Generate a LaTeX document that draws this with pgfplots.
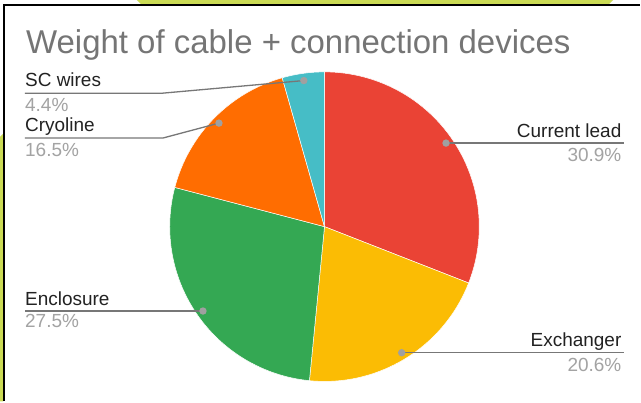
\documentclass[border=0pt]{standalone}
\usepackage{pgfplots}
\usepackage{pgfplotstable}
\pgfplotsset{compat=1.18}
\usepackage{fontspec}
\setmainfont{Liberation Sans}
\definecolor{c0}{HTML}{EA4335}
\definecolor{c1}{HTML}{FBBC04}
\definecolor{c2}{HTML}{34A853}
\definecolor{c3}{HTML}{FF6D01}
\definecolor{c4}{HTML}{46BDC6}
\definecolor{lime}{HTML}{CBDB55}
\definecolor{titlegray}{HTML}{757575}
\definecolor{labeldark}{HTML}{222222}
\definecolor{pctgray}{HTML}{A3A3A3}
\definecolor{leadgray}{HTML}{777777}
\definecolor{dotgray}{HTML}{A0A0A0}

\pgfplotstableread{
label value
{Current lead} 30.9
Exchanger 20.6
Enclosure 27.5
Cryoline 16.5
{SC wires} 4.4
}\piedata

\begin{document}
\begin{tikzpicture}
\def\total{0}
\pgfplotsforeachungrouped \i in {0,...,4}{%
  \pgfplotstablegetelem{\i}{value}\of\piedata
  \pgfmathsetmacro\total{\total+\pgfplotsretval}%
  \xdef\total{\total}}
\def\cum{90}
\pgfplotsforeachungrouped \i in {0,...,4}{%
  \pgfplotstablegetelem{\i}{value}\of\piedata
  \pgfmathsetmacro\nxt{\cum-\pgfplotsretval*360/\total}%
  \expandafter\xdef\csname sa\i\endcsname{\cum}%
  \expandafter\xdef\csname ea\i\endcsname{\nxt}%
  \xdef\cum{\nxt}}
\begin{axis}[
  scale only axis, width=641pt, height=402pt,
  xmin=0, xmax=641, ymin=0, ymax=402, y dir=reverse,
  hide axis, clip=false,
  lead/.style={leadgray, line width=1.3pt, mark=*, mark indices={1},
    mark options={dotgray, draw=dotgray, scale=1.5}},
]
\fill[white] (axis cs:0,0) rectangle (axis cs:641,402);
% background decorations of the screenshot
\fill[lime] (axis cs:137,0) -- (axis cs:141,4) -- (axis cs:610,4) -- (axis cs:614,0) -- cycle;
\fill[lime] (axis cs:0,137) -- (axis cs:3,134) -- (axis cs:3,402) -- (axis cs:0,402) -- cycle;
\draw[black, line width=2pt] (axis cs:4.5,402) -- (axis cs:4.5,5) -- (axis cs:641,5);
% pie slices
\pgfplotsinvokeforeach{0,...,4}{
  \fill[c#1, draw=white, line width=0.5pt] (axis cs:325,227) -- ++(\csname sa#1\endcsname:155pt)
    arc[start angle=\csname sa#1\endcsname, end angle=\csname ea#1\endcsname, radius=155pt] -- cycle;
}
% leader lines
\addplot[lead] coordinates {(446.7,143.3) (625,143.3)};
\addplot[lead] coordinates {(402.3,353.3) (625,353.3)};
\addplot[lead] coordinates {(203.3,311.5) (25,311.5)};
\addplot[lead] coordinates {(304.3,80.7) (163,93.3) (25,93.3)};
\addplot[lead] coordinates {(219.3,123.3) (163,138.3) (25,138.3)};
% title
\node[anchor=base west, inner sep=0pt, text=titlegray, font=\fontsize{33}{38}\selectfont]
  at (axis cs:26,54) {Weight of cable + connection devices};
% labels
\tikzset{lab/.style={inner sep=0pt, text=labeldark, font=\fontsize{19}{22}\selectfont},
         pct/.style={inner sep=0pt, text=pctgray, font=\fontsize{19}{22}\selectfont}}
\node[lab, anchor=base east] at (axis cs:622.5,137.3) {Current lead};
\node[pct, anchor=base east] at (axis cs:622.5,161.7) {30.9\%};
\node[lab, anchor=base east] at (axis cs:622.5,346.8) {Exchanger};
\node[pct, anchor=base east] at (axis cs:622.5,371.7) {20.6\%};
\node[lab, anchor=base west] at (axis cs:25,306) {Enclosure};
\node[pct, anchor=base west] at (axis cs:25,327.7) {27.5\%};
\node[lab, anchor=base west] at (axis cs:25,86.5) {SC wires};
\node[pct, anchor=base west] at (axis cs:25,111.7) {4.4\%};
\node[lab, anchor=base west] at (axis cs:25,131.7) {Cryoline};
\node[pct, anchor=base west] at (axis cs:25,156.7) {16.5\%};
\end{axis}
\end{tikzpicture}
\end{document}
